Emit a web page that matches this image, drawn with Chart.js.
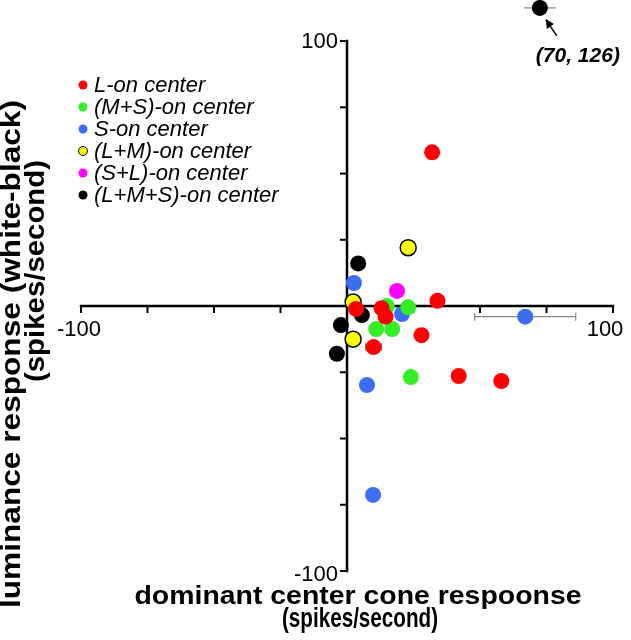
<!DOCTYPE html>
<html>
<head>
<meta charset="utf-8">
<script src="https://cdn.jsdelivr.net/npm/chart.js@4.4.1/dist/chart.umd.min.js"></script>
<style>
    html, body { margin: 0; padding: 0; background: #fff; }
    #wrap { width: 631px; height: 640px; position: relative; }
</style>
</head>
<body>
<div id="wrap"><canvas id="coneChart"></canvas></div>
<script>
// Series labels and colours (legend order)
const seriesLabels = ['L-on center', '(M+S)-on center', 'S-on center', '(L+M)-on center', '(S+L)-on center', '(L+M+S)-on center'];
const seriesColors = ['#ff0000', '#33ee22', '#3b6ef0', '#ffff00', '#ff00ff', '#000000'];

// L-on center
const lOnX = [32, 34, 28, 42, 58, 10, 13, 14.5, 3.4];
const lOnY = [58, 2, -11, -26.4, -28.3, -15.5, -0.8, -4, -1.1];
const lOnXErr = [0, 0, 0, 0, 0, 3, 0, 0, 0];

// (M+S)-on center
const mpsX = [15, 23, 11, 17, 24];
const mpsY = [0, -0.5, -8.7, -8.7, -26.8];

// S-on center
const sOnX = [2.6, 20.7, 67, 7.5, 9.8];
const sOnY = [8.7, -3, -4, -29.8, -71.3];
const sOnXErr = [0, 0, 19, 0, 0];
const sOnYErr = [0, 0, 0, 1.5, 2];

// (L+M)-on center
const lpmX = [23, 2.3, 2.3];
const lpmY = [22, 1.5, -12.5];

// (S+L)-on center
const splX = [18.8];
const splY = [5.7];

// (L+M+S)-on center, last one is the off-scale cell drawn above the axis
const lmsX = [4.2, 5.6, -2.3, -3.8, 72.5];
const lmsY = [16.1, -3.4, -7.2, -18, 112.5];
const lmsXErr = [0, 0, 0, 0, 6];
const outlierLabel = '(70, 126)';

// Axis ticks
const axisTicks = [-100, -75, -50, -25, 25, 50, 75, 100];
const tickLabels = ['-100', '100'];

const FONT = '"Liberation Sans", Arial, Helvetica, sans-serif';

function toPoints(xs, ys, xe, ye) {
    return xs.map((v, i) => ({
        x: v, y: ys[i],
        xErr: xe ? xe[i] : 0,
        yErr: ye ? ye[i] : 0
    }));
}

const seriesData = [
    toPoints(lOnX, lOnY, lOnXErr),
    toPoints(mpsX, mpsY),
    toPoints(sOnX, sOnY, sOnXErr, sOnYErr),
    toPoints(lpmX, lpmY),
    toPoints(splX, splY),
    toPoints(lmsX, lmsY, lmsXErr)
];

// draw text fitted to a given width, optionally stretched vertically
function fitText(ctx, text, cx, baseline, width, stretchY) {
    const w = ctx.measureText(text).width;
    ctx.save();
    ctx.translate(cx, baseline);
    ctx.scale(width / w, stretchY || 1);
    ctx.textAlign = 'center';
    ctx.textBaseline = 'alphabetic';
    ctx.fillText(text, 0, 0);
    ctx.restore();
}

function line(ctx, x1, y1, x2, y2) {
    ctx.beginPath();
    ctx.moveTo(x1, y1);
    ctx.lineTo(x2, y2);
    ctx.stroke();
}

const crossAxes = {
    id: 'crossAxes',
    beforeDatasetsDraw(chart) {
        const { ctx, scales: { x, y } } = chart;
        const x0 = x.getPixelForValue(0);
        const y0 = y.getPixelForValue(0);
        ctx.save();
        ctx.strokeStyle = '#000';
        ctx.lineWidth = 2.5;
        ctx.lineCap = 'square';
        line(ctx, x.getPixelForValue(-100), y0, x.getPixelForValue(100), y0);
        line(ctx, x0, y.getPixelForValue(100), x0, y.getPixelForValue(-100));
        ctx.lineWidth = 2;
        ctx.lineCap = 'butt';
        axisTicks.forEach(v => {
            const px = x.getPixelForValue(v);
            line(ctx, px, y0, px, y0 + 7);
            const py = y.getPixelForValue(v);
            line(ctx, x0 - 7, py, x0, py);
        });

        // tick labels at the ends
        ctx.fillStyle = '#000';
        ctx.font = '22px ' + FONT;
        ctx.textBaseline = 'alphabetic';
        ctx.textAlign = 'center';
        ctx.fillText(tickLabels[0], x.getPixelForValue(-100) - 2, y0 + 30);
        ctx.fillText(tickLabels[1], x.getPixelForValue(100) - 8, y0 + 30);
        ctx.textAlign = 'right';
        ctx.fillText(tickLabels[1], x0 - 9, y.getPixelForValue(100) + 7);
        ctx.fillText(tickLabels[0], x0 - 9, y.getPixelForValue(-100) + 10);

        // error bars, behind the markers
        ctx.strokeStyle = '#888';
        ctx.lineWidth = 1.2;
        chart.data.datasets.forEach(ds => {
            const cap = ds.errorCaps;
            ds.data.forEach(p => {
                const px = x.getPixelForValue(p.x);
                const py = y.getPixelForValue(p.y);
                if (p.xErr) {
                    const a = x.getPixelForValue(p.x - p.xErr);
                    const b = x.getPixelForValue(p.x + p.xErr);
                    line(ctx, a, py, b, py);
                    if (cap) {
                        line(ctx, a, py - 4, a, py + 4);
                        line(ctx, b, py - 4, b, py + 4);
                    }
                }
                if (p.yErr) {
                    const a = y.getPixelForValue(p.y - p.yErr);
                    const b = y.getPixelForValue(p.y + p.yErr);
                    line(ctx, px, a, px, b);
                    if (cap) {
                        line(ctx, px - 3, a, px + 3, a);
                        line(ctx, px - 3, b, px + 3, b);
                    }
                }
            });
        });
        ctx.restore();
    },
    afterDraw(chart) {
        const { ctx, scales: { x, y } } = chart;
        ctx.save();
        ctx.fillStyle = '#000';

        // legend
        chart.data.datasets.forEach((ds, i) => {
            const cy = 85 + i * 22;
            ctx.beginPath();
            ctx.arc(83, cy, 4.5, 0, Math.PI * 2);
            ctx.fillStyle = ds.backgroundColor;
            ctx.fill();
            if (ds.borderWidth) {
                ctx.lineWidth = 1;
                ctx.strokeStyle = '#000';
                ctx.stroke();
            }
            ctx.fillStyle = '#000';
            ctx.font = 'italic 22px ' + FONT;
            ctx.textAlign = 'left';
            ctx.textBaseline = 'middle';
            ctx.fillText(ds.label, 94, cy + 1);
        });

        // outlier annotation
        const last = lmsX.length - 1;
        const ox = x.getPixelForValue(lmsX[last]);
        const oy = y.getPixelForValue(lmsY[last]);
        ctx.strokeStyle = '#000';
        ctx.lineWidth = 1.5;
        line(ctx, ox + 17, oy + 28, ox + 6, oy + 12);
        ctx.beginPath();
        ctx.moveTo(ox + 6, oy + 11);
        ctx.lineTo(ox + 7, oy + 21);
        ctx.lineTo(ox + 14, oy + 16);
        ctx.closePath();
        ctx.fillStyle = '#000';
        ctx.fill();
        ctx.font = 'italic bold 21px ' + FONT;
        ctx.textAlign = 'center';
        ctx.textBaseline = 'alphabetic';
        ctx.fillText(outlierLabel, ox + 38, oy + 54);

        // axis titles
        ctx.font = 'bold 23px ' + FONT;
        fitText(ctx, 'dominant center cone respoonse', 358, 604, 447, 1.15);
        ctx.font = 'bold 22px ' + FONT;
        fitText(ctx, '(spikes/second)', 360, 627, 156, 1.25);

        ctx.save();
        ctx.rotate(-Math.PI / 2);
        ctx.font = 'bold 27px ' + FONT;
        fitText(ctx, 'luminance response (white-black)', -354, 20, 508);
        ctx.font = 'bold 27px ' + FONT;
        fitText(ctx, '(spikes/second)', -271, 44, 222);
        ctx.restore();

        ctx.restore();
    }
};

const ctx = document.getElementById('coneChart').getContext('2d');
const coneChart = new Chart(ctx, {
    type: 'scatter',
    data: {
        datasets: seriesData.map((d, i) => ({
            label: seriesLabels[i],
            data: d,
            backgroundColor: seriesColors[i],
            borderColor: '#000',
            borderWidth: i === 3 ? 1.5 : 0,
            pointRadius: 8,
            pointHoverRadius: 8,
            errorCaps: i !== 5,
            clip: false
        }))
    },
    options: {
        responsive: true,
        maintainAspectRatio: false,
        animation: false,
        layout: {
            autoPadding: false,
            padding: { left: 81, right: 18, top: 0, bottom: 69 }
        },
        scales: {
            x: { type: 'linear', min: -100, max: 100, display: false },
            y: { type: 'linear', min: -100, max: 115.5, display: false }
        },
        plugins: {
            legend: { display: false },
            tooltip: { enabled: false }
        }
    },
    plugins: [crossAxes]
});
</script>
</body>
</html>
